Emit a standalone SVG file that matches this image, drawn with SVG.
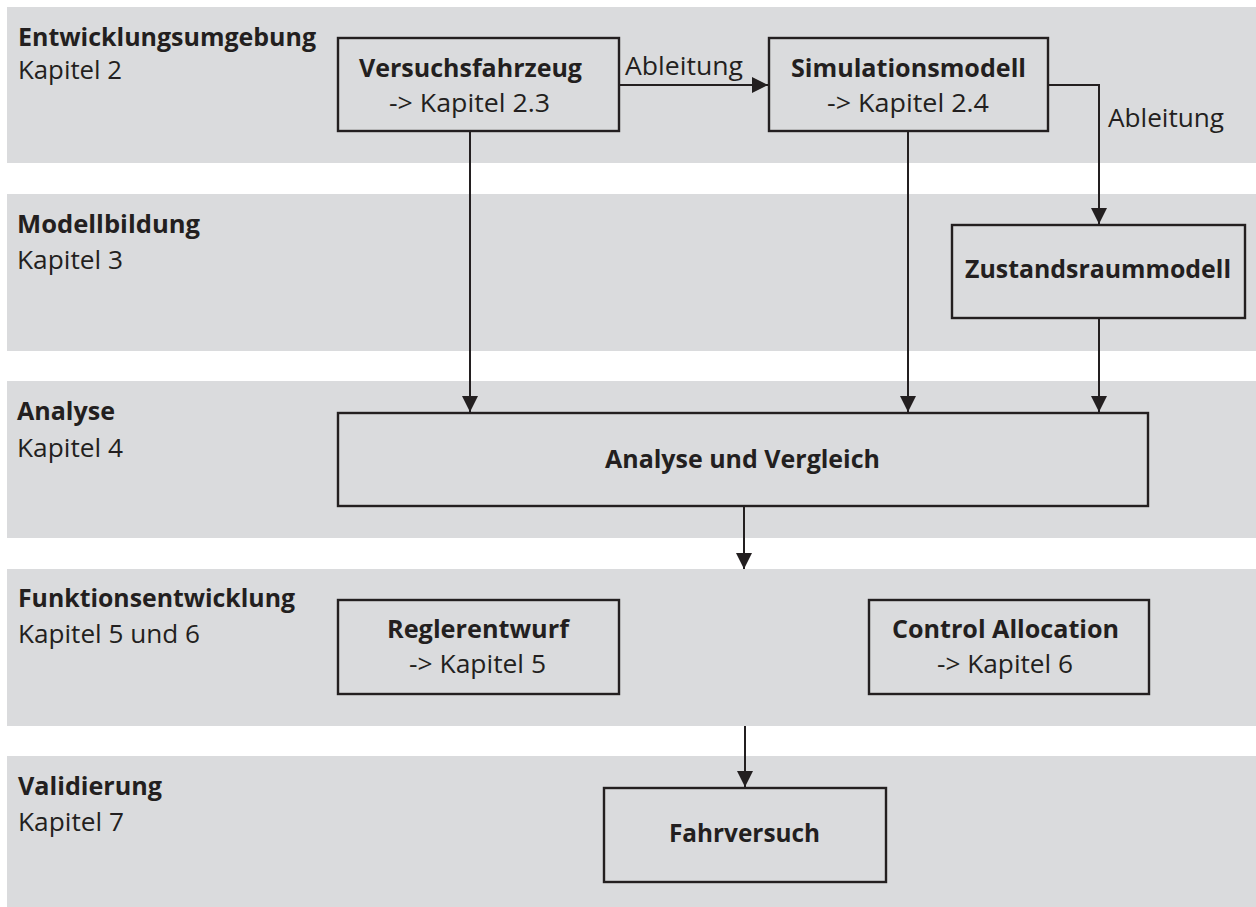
<svg xmlns="http://www.w3.org/2000/svg" width="1256" height="907" viewBox="0 0 1256 907">
<defs>
<style>
.band{fill:#DADBDD;}
.box{fill:#DADBDD;stroke:#231F20;stroke-width:2.4;}
.t{font-family:"Open Sans","Liberation Sans",sans-serif;font-size:25px;fill:#231F20;}
.b{font-weight:bold;}
.con{fill:none;stroke:#231F20;stroke-width:2;}
</style>
<marker id="ah" markerUnits="userSpaceOnUse" markerWidth="16" markerHeight="16" refX="16" refY="8" orient="auto" viewBox="0 0 16 16">
<path d="M0,0 L16,8 L0,16 z" fill="#231F20"/>
</marker>
</defs>
<rect width="1256" height="907" fill="#FFFFFF"/>
<g id="bands">
<rect class="band" x="7" y="7" width="1249" height="156"/>
<rect class="band" x="7" y="194" width="1249" height="157"/>
<rect class="band" x="7" y="381" width="1249" height="157"/>
<rect class="band" x="7" y="569" width="1249" height="157"/>
<rect class="band" x="7" y="756" width="1249" height="151"/>
</g>
<g id="lane-labels">
<text class="t b" x="18" y="46" textLength="298" lengthAdjust="spacingAndGlyphs">Entwicklungsumgebung</text>
<text class="t" x="18" y="79" textLength="104" lengthAdjust="spacingAndGlyphs">Kapitel 2</text>
<text class="t b" x="17" y="233" textLength="183" lengthAdjust="spacingAndGlyphs">Modellbildung</text>
<text class="t" x="17" y="269" textLength="106" lengthAdjust="spacingAndGlyphs">Kapitel 3</text>
<text class="t b" x="17" y="420" textLength="98" lengthAdjust="spacingAndGlyphs">Analyse</text>
<text class="t" x="17" y="457" textLength="106" lengthAdjust="spacingAndGlyphs">Kapitel 4</text>
<text class="t b" x="18" y="607" textLength="277" lengthAdjust="spacingAndGlyphs">Funktionsentwicklung</text>
<text class="t" x="18" y="643" textLength="182" lengthAdjust="spacingAndGlyphs">Kapitel 5 und 6</text>
<text class="t b" x="18" y="795" textLength="144" lengthAdjust="spacingAndGlyphs">Validierung</text>
<text class="t" x="18" y="831" textLength="106" lengthAdjust="spacingAndGlyphs">Kapitel 7</text>
</g>
<g id="connectors">
<line class="con" x1="619" y1="85" x2="768" y2="85" marker-end="url(#ah)"/>
<path class="con" d="M1048,85 H1099 V224" marker-end="url(#ah)"/>
<line class="con" x1="470" y1="131" x2="470" y2="412" marker-end="url(#ah)"/>
<line class="con" x1="908" y1="131" x2="908" y2="412" marker-end="url(#ah)"/>
<line class="con" x1="1099" y1="318" x2="1099" y2="412" marker-end="url(#ah)"/>
<line class="con" x1="744" y1="506" x2="744" y2="569" marker-end="url(#ah)"/>
<line class="con" x1="745" y1="726" x2="745" y2="787" marker-end="url(#ah)"/>
<text class="t" x="625" y="75" textLength="118" lengthAdjust="spacingAndGlyphs">Ableitung</text>
<text class="t" x="1108" y="127" textLength="116" lengthAdjust="spacingAndGlyphs">Ableitung</text>
</g>
<g id="versuchsfahrzeug">
<rect class="box" x="338" y="38" width="281" height="93"/>
<text class="t b" x="359" y="77" textLength="223" lengthAdjust="spacingAndGlyphs">Versuchsfahrzeug</text>
<text class="t" x="389" y="112" textLength="161" lengthAdjust="spacingAndGlyphs">-&gt; Kapitel 2.3</text>
</g>
<g id="simulationsmodell">
<rect class="box" x="769" y="38" width="279" height="93"/>
<text class="t b" x="791" y="77" textLength="235" lengthAdjust="spacingAndGlyphs">Simulationsmodell</text>
<text class="t" x="827" y="112" textLength="162" lengthAdjust="spacingAndGlyphs">-&gt; Kapitel 2.4</text>
</g>
<g id="zustandsraummodell">
<rect class="box" x="952" y="225" width="293" height="93"/>
<text class="t b" x="965" y="278" textLength="266" lengthAdjust="spacingAndGlyphs">Zustandsraummodell</text>
</g>
<g id="analyse-und-vergleich">
<rect class="box" x="338" y="413" width="810" height="93"/>
<text class="t b" x="605" y="468" textLength="275" lengthAdjust="spacingAndGlyphs">Analyse und Vergleich</text>
</g>
<g id="reglerentwurf">
<rect class="box" x="338" y="600" width="281" height="94"/>
<text class="t b" x="387" y="638" textLength="182" lengthAdjust="spacingAndGlyphs">Reglerentwurf</text>
<text class="t" x="409" y="673" textLength="137" lengthAdjust="spacingAndGlyphs">-&gt; Kapitel 5</text>
</g>
<g id="control-allocation">
<rect class="box" x="869" y="600" width="280" height="94"/>
<text class="t b" x="892" y="638" textLength="227" lengthAdjust="spacingAndGlyphs">Control Allocation</text>
<text class="t" x="937" y="673" textLength="136" lengthAdjust="spacingAndGlyphs">-&gt; Kapitel 6</text>
</g>
<g id="fahrversuch">
<rect class="box" x="604" y="788" width="282" height="94"/>
<text class="t b" x="669" y="842" textLength="151" lengthAdjust="spacingAndGlyphs">Fahrversuch</text>
</g>
</svg>
